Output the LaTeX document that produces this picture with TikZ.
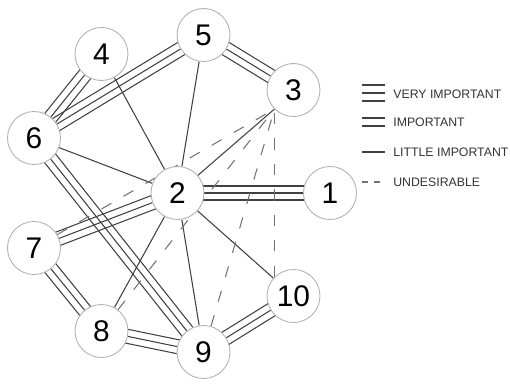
\documentclass[tikz,border=0pt]{standalone}
\usepackage{fontspec}
\setmainfont{Liberation Sans}
\usetikzlibrary{calc,backgrounds}

% three parallel lines between two stations
\newcommand{\tripleline}[2]{%
  \draw[edge] (#1) -- (#2);
  \draw[edge] ($(#1.center)!0.14cm!90:(#2.center)$) -- ($(#2.center)!0.14cm!-90:(#1.center)$);
  \draw[edge] ($(#1.center)!0.14cm!-90:(#2.center)$) -- ($(#2.center)!0.14cm!90:(#1.center)$);
}

\begin{document}
\begin{tikzpicture}[x=0.02cm, y=-0.02cm,
    station/.style={circle, draw=black!30, line width=0.5pt, fill=white,
      minimum size=1.06cm, inner sep=0pt, text=black,
      font=\fontsize{17}{17}\selectfont},
    edge/.style={draw=black!75, line width=0.6pt},
    undes/.style={draw=black!55, line width=0.6pt, dash pattern=on 6.5pt off 8pt},
    legtext/.style={anchor=west, inner sep=0pt, text=black!80,
      font=\fontsize{7}{8}\selectfont}]
    \useasboundingbox (0,0) rectangle (510,383);

    % estaciones
    \node[station] (n1) at (330,193) {1};
    \node[station] (n2) at (177.5,193) {2};
    \node[station] (n3) at (293.5,90) {3};
    \node[station] (n4) at (101.5,54) {4};
    \node[station] (n5) at (203.5,35) {5};
    \node[station] (n6) at (34,138) {6};
    \node[station] (n7) at (34,248) {7};
    \node[station] (n8) at (101.5,331) {8};
    \node[station] (n9) at (203.5,352) {9};
    \node[station] (n10) at (293.5,296) {10};

    \begin{pgfonlayer}{background}
    % muy importante
    \tripleline{n6}{n4}
    \tripleline{n6}{n5}
    \tripleline{n5}{n3}
    \tripleline{n2}{n1}
    \tripleline{n6}{n9}
    \tripleline{n7}{n2}
    \tripleline{n7}{n8}
    \tripleline{n8}{n9}
    \tripleline{n9}{n10}

    % poco importante
    \draw[edge] (n2) -- (n4);
    \draw[edge] (n2) -- (n5);
    \draw[edge] (n2) -- (n6);
    \draw[edge] (n2) -- (n3.225);
    \draw[edge] (n2) -- (n8);
    \draw[edge] (n2) -- (n9);
    \draw[edge] (n2) -- (n10);

    % indeseable
    \draw[undes] (n7) -- (n3.225);
    \draw[undes] (n8) -- (n3.225);
    \draw[undes] (n9) -- (n3.225);
    \draw[undes] (n10.135) -- (n3.225);
    \end{pgfonlayer}

    % leyenda
    \draw[edge] (362,85) -- (385,85);
    \draw[edge] (362,93) -- (385,93);
    \draw[edge] (362,101) -- (385,101);
    \node[legtext] (lvi) at (393,94) {VERY IMPORTANT};
    \draw[edge] (362,118) -- (385,118);
    \draw[edge] (362,126) -- (385,126);
    \node[legtext] (lim) at (393,122) {IMPORTANT};
    \draw[edge] (362,152) -- (385,152);
    \node[legtext] (lli) at (393,152) {LITTLE IMPORTANT};
    \draw[undes, dash pattern=on 3.4pt off 3.4pt] (362,182) -- (381,182);
    \node[legtext] (lun) at (393,182) {UNDESIRABLE};
\end{tikzpicture}
\end{document}
